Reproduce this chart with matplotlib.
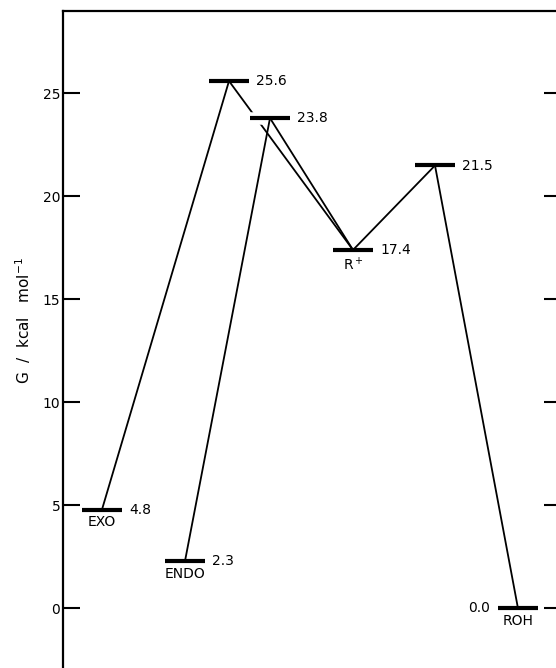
import numpy as np
import matplotlib
matplotlib.use('Agg')
import matplotlib.pyplot as plt
import matplotlib.patheffects as pe

plt.close('all')
plt.rcParams['font.family'] = 'DejaVu Sans'

# free energy levels (kcal/mol)
names  = ['EXO', 'ENDO', 'TS1', 'TS2', 'R$^+$', 'TS3', 'ROH']
energy = [4.8, 2.3, 25.6, 23.8, 17.4, 21.5, 0.0]
labels = ['4.8', '2.3', '25.6', '23.8', '17.4', '21.5', '0.0']
shown  = ['EXO', 'ENDO', '', '', 'R$^+$', '', 'ROH']

# horizontal placement of each level (diagram layout, arbitrary units)
xpos  = [39, 122, 166, 207, 290, 372, 455]
halfw = 20

# which levels are joined
links = [(0, 2), (1, 3), (2, 4), (3, 4), (4, 5), (5, 6)]

fig = plt.figure(figsize=(5.56, 6.68), dpi=100)
ax = fig.add_axes([63/556, 1 - 680.5/668, 498/556, 669.5/668])
ax.set_xlim(0, 498)
ax.set_ylim(-3.5, 29.0)

# connecting lines (the TS1 -> R+ line is drawn behind the TS2 bar)
for i, j in links:
    z = 1 if (i, j) == (2, 4) else 4
    ax.plot([xpos[i], xpos[j]], [energy[i], energy[j]], color='k', lw=1.3, zorder=z)

for k in range(len(energy)):
    halo = [pe.Stroke(linewidth=9, foreground='white'), pe.Normal()] if k == 3 else None
    ax.plot([xpos[k] - halfw, xpos[k] + halfw], [energy[k], energy[k]],
            color='k', lw=3, solid_capstyle='butt', zorder=3, path_effects=halo)
    if k == 6:
        ax.annotate(labels[k], (xpos[k] - halfw, energy[k]), xytext=(-6, 0),
                    textcoords='offset points', ha='right', va='center', fontsize=10)
    else:
        ax.annotate(labels[k], (xpos[k] + halfw, energy[k]), xytext=(5, 0),
                    textcoords='offset points', ha='left', va='center', fontsize=10)
    if shown[k]:
        ax.annotate(shown[k], (xpos[k], energy[k]), xytext=(0, -4),
                    textcoords='offset points', ha='center', va='top', fontsize=10)

ax.set_yticks(np.arange(0, 30, 5))
ax.set_xticks([])
ax.tick_params(axis='y', direction='in', length=12, width=1.5, pad=2,
               labelsize=10, right=True)
for s in ax.spines.values():
    s.set_linewidth(1.6)

ax.set_ylabel('G  /  kcal   mol$^{-1}$', fontsize=11)
ax.yaxis.set_label_coords(-0.060, 0.538)

plt.savefig('out.png', dpi=100)
